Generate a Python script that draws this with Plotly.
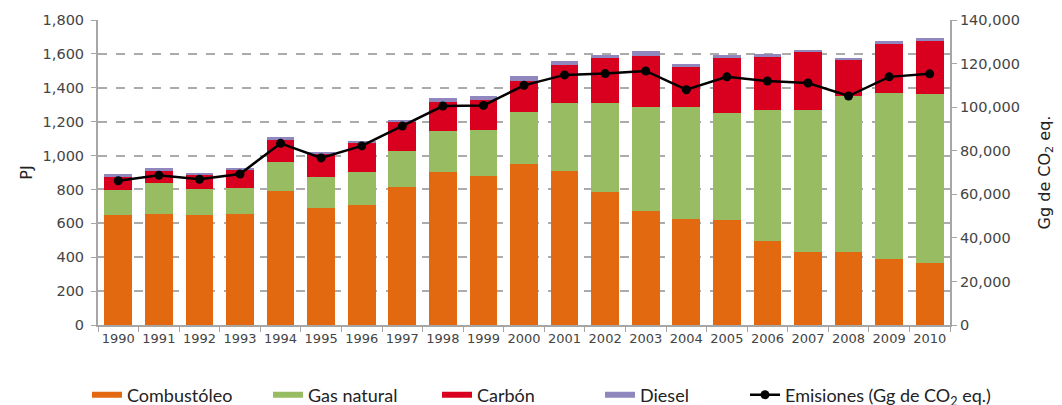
import plotly.graph_objects as go

years = [str(y) for y in range(1990, 2011)]
combustoleo = [652, 658, 652, 658, 788, 688, 711, 812, 901, 877, 948, 907, 782, 670, 628, 617, 498, 433, 433, 391, 368]
gas_natural = [142, 178, 148, 148, 172, 183, 190, 213, 243, 273, 309, 403, 528, 616, 658, 634, 771, 836, 919, 978, 995]
carbon = [77, 71, 83, 107, 137, 137, 172, 172, 172, 178, 183, 225, 267, 303, 237, 326, 314, 343, 213, 291, 315]
diesel = [18, 18, 12, 12, 11, 12, 12, 12, 24, 24, 30, 24, 18, 29, 18, 18, 18, 6, 12, 18, 17]
emisiones = [66200, 68700, 66900, 69300, 83400, 76700, 82200, 91300, 100500, 100800, 110000, 114800, 115400, 116600, 108000, 113900, 112000, 111100, 105100, 113900, 115300]

names = ["Combustóleo", "Gas natural", "Carbón", "Diesel"]
colors = ["#E2690F", "#97BC62", "#D9001F", "#8F87BE"]
legend_ids = ["legend", "legend2", "legend3", "legend4", "legend5"]
legend_text_x = [127, 308, 477, 640, 785]

fig = go.Figure()
for name, vals, c in zip(names, [combustoleo, gas_natural, carbon, diesel], colors):
    fig.add_trace(go.Bar(x=years, y=vals, name=name, showlegend=False, legendgroup=name,
                         marker=dict(color=c, line=dict(width=0))))

fig.add_trace(go.Scatter(x=years, y=emisiones, name="Emisiones (Gg de CO<sub>2</sub> eq.)",
                         mode="lines+markers", yaxis="y2", legend="legend5",
                         line=dict(color="black", width=2.5),
                         marker=dict(color="black", size=9)))

# legend-only swatches (thin bars as in the reference)
for name, c, lid in zip(names, colors, legend_ids[:4]):
    fig.add_trace(go.Scatter(x=[None], y=[None], name=name, mode="lines", legendgroup=name,
                             legend=lid, line=dict(color=c, width=6), hoverinfo="skip"))

# page has an 8px body margin, so the figure is offset by 8px
OFF = 8
L, R, T, B = 98 - OFF, 112 + OFF, 20 - OFF, 80 + OFF
W, H = 1062, 405
pw, ph = W - L - R, H - T - B

axcol = "#A6A6A6"
tickfont = dict(family="DejaVu Sans", size=14.5, color="#444")
layout = dict(
    barmode="stack",
    bargap=0.32,
    width=W, height=H,
    margin=dict(l=L, r=R, t=T, b=B, autoexpand=False),
    plot_bgcolor="white", paper_bgcolor="white",
    font=dict(family="DejaVu Sans", color="#444444"),
    xaxis=dict(showline=True, linecolor=axcol, linewidth=2, ticks="outside", tickson="boundaries",
               ticklen=5, tickcolor=axcol, tickfont=dict(family="DejaVu Sans", size=13, color="#444"),
               tickangle=0, showgrid=False, automargin=False, range=[-0.5, 20.5]),
    yaxis=dict(range=[0, 1800], dtick=200, tickformat=",", showline=True, linecolor=axcol, linewidth=2,
               ticks="outside", ticklen=5, tickcolor=axcol, showgrid=True, gridcolor="#ABABAB",
               griddash="dash", gridwidth=1.5, zeroline=False, tickfont=tickfont, automargin=False,
               ticklabelstandoff=4,
               title=dict(text="PJ", font=dict(family="DejaVu Sans", size=16, color="#222"), standoff=6)),
    yaxis2=dict(range=[0, 140000], dtick=20000, tickformat=",", overlaying="y", side="right",
                showline=True, linecolor=axcol, linewidth=2, ticks="outside", ticklen=5, tickcolor=axcol,
                showgrid=False, zeroline=False, tickfont=tickfont, automargin=False,
                title=dict(text="Gg de CO<sub>2</sub> eq.", font=dict(family="DejaVu Sans", size=16, color="#222"), standoff=20)),
)
for lid, tx in zip(legend_ids, legend_text_x):
    layout[lid] = dict(orientation="h",
                       x=(tx - 48 - L) / pw, xanchor="left", y=(T + ph - (395 - OFF)) / ph, yanchor="middle",
                       font=dict(family="Lato", size=18, color="#222"), bgcolor="rgba(0,0,0,0)")
fig.update_layout(**layout)

fig.write_html("out.html")
